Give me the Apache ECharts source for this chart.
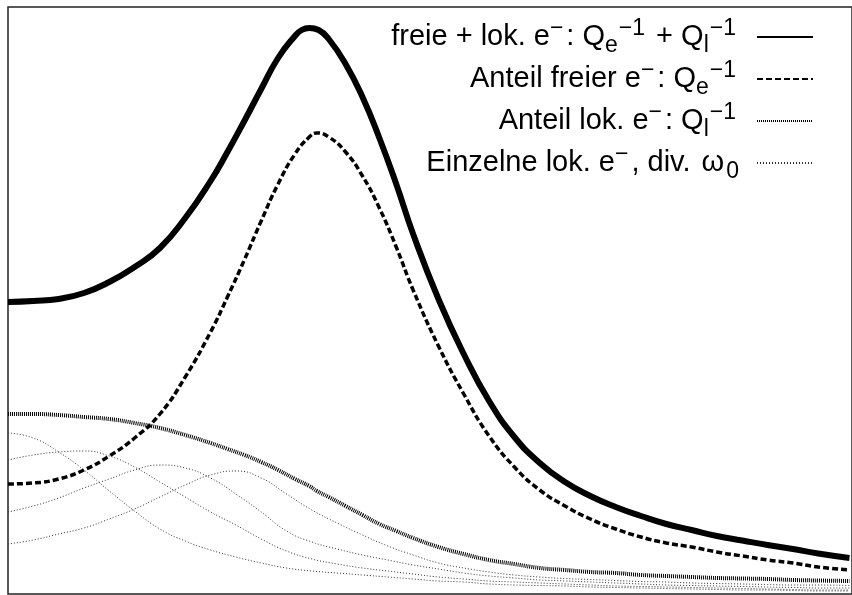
<!DOCTYPE html>
<html>
<head>
<meta charset="utf-8">
<script src="https://cdn.jsdelivr.net/npm/echarts@6/dist/echarts.min.js"></script>
<style>html,body{margin:0;padding:0;background:#fff}#c{width:852px;height:595px}</style>
</head>
<body>
<div id="c"></div>
<script>
// x positions (arbitrary frequency units) of the sum curve
const X_TOTAL = [0, 0.3, 0.6, 0.9, 1.2, 1.5, 1.8, 2.1, 2.4, 2.6, 2.8, 3.0, 3.2, 3.4, 3.48, 3.57, 3.68, 3.8, 4.0, 4.2, 4.4, 4.6, 4.8, 5.1, 5.4, 5.7, 6.0, 6.3, 6.6, 6.9, 7.2, 7.5, 7.8, 8.1, 8.4, 8.7, 9.0, 9.3, 9.6, 9.97];
// free + localized electrons
const TOTAL = [2.92, 2.93, 2.95, 3.01, 3.12, 3.27, 3.46, 3.76, 4.13, 4.42, 4.73, 5.05, 5.36, 5.58, 5.64, 5.66, 5.64, 5.55, 5.30, 4.97, 4.56, 4.10, 3.60, 2.95, 2.40, 1.93, 1.57, 1.31, 1.12, 0.98, 0.87, 0.78, 0.70, 0.64, 0.58, 0.535, 0.49, 0.45, 0.405, 0.36];
// x positions of the free / localized parts
const X_MAIN = [0, 0.3, 0.6, 0.9, 1.2, 1.5, 1.8, 2.1, 2.4, 2.6, 2.8, 3.0, 3.2, 3.4, 3.57, 3.66, 3.8, 4.0, 4.2, 4.4, 4.6, 4.8, 5.1, 5.4, 5.7, 6.0, 6.3, 6.6, 6.9, 7.2, 7.5, 7.8, 8.1, 8.4, 8.7, 9.0, 9.3, 9.6, 9.97];
// free electrons
const FREE  = [1.10, 1.11, 1.15, 1.24, 1.38, 1.56, 1.80, 2.17, 2.62, 2.97, 3.34, 3.73, 4.10, 4.40, 4.57, 4.61, 4.57, 4.42, 4.18, 3.86, 3.47, 3.04, 2.48, 2.00, 1.58, 1.27, 1.04, 0.88, 0.75, 0.65, 0.57, 0.51, 0.47, 0.42, 0.38, 0.34, 0.31, 0.27, 0.24];
// localized electrons
const LOCAL = [1.80, 1.80, 1.79, 1.77, 1.75, 1.71, 1.66, 1.59, 1.51, 1.45, 1.39, 1.32, 1.24, 1.15, 1.08, 1.03, 0.97, 0.88, 0.79, 0.70, 0.63, 0.56, 0.47, 0.40, 0.34, 0.30, 0.26, 0.24, 0.22, 0.21, 0.19, 0.18, 0.17, 0.16, 0.155, 0.15, 0.14, 0.135, 0.13];
// x positions of the individual localized contributions
const X_SINGLE = [0, 0.3, 0.6, 0.9, 1.2, 1.5, 1.8, 2.1, 2.4, 2.7, 3.0, 3.3, 3.6, 3.9, 4.2, 4.5, 4.8, 5.1, 5.4, 5.7, 6.0, 6.3, 6.6, 6.9, 7.2, 7.5, 7.8, 8.1, 8.4, 8.7, 9.0, 9.3, 9.6, 9.97];
const SINGLE_1 = [1.61, 1.56, 1.42, 1.24, 1.03, 0.83, 0.65, 0.53, 0.44, 0.37, 0.31, 0.26, 0.23, 0.21, 0.19, 0.17, 0.15, 0.13, 0.12, 0.10, 0.09, 0.085, 0.08, 0.07, 0.065, 0.06, 0.055, 0.05, 0.045, 0.04, 0.04, 0.035, 0.03, 0.03];
const SINGLE_2 = [1.34, 1.39, 1.42, 1.43, 1.38, 1.27, 1.12, 0.97, 0.82, 0.69, 0.55, 0.43, 0.35, 0.30, 0.26, 0.23, 0.20, 0.17, 0.15, 0.13, 0.12, 0.11, 0.10, 0.09, 0.08, 0.075, 0.07, 0.065, 0.06, 0.055, 0.05, 0.045, 0.04, 0.04];
const SINGLE_3 = [0.82, 0.88, 0.96, 1.06, 1.15, 1.24, 1.29, 1.26, 1.16, 1.00, 0.82, 0.63, 0.52, 0.45, 0.39, 0.34, 0.29, 0.25, 0.21, 0.18, 0.16, 0.14, 0.13, 0.12, 0.11, 0.10, 0.09, 0.085, 0.08, 0.075, 0.07, 0.065, 0.06, 0.06];
const SINGLE_4 = [0.50, 0.54, 0.60, 0.66, 0.75, 0.85, 0.97, 1.09, 1.19, 1.23, 1.16, 1.00, 0.84, 0.71, 0.59, 0.48, 0.39, 0.31, 0.26, 0.22, 0.19, 0.17, 0.155, 0.145, 0.135, 0.125, 0.12, 0.11, 0.105, 0.10, 0.095, 0.09, 0.09, 0.085];

const NAMES = ['total', 'free', 'local', 'single'];
const LABELS = {
  total: '{n|freie + lok. e}{esup|−}{n|: Q}{sub|e}{sup|−1}{n| + Q}{sub|l}{sup|−1}',
  free: '{n|Anteil freier e}{esup|−}{n|: Q}{sub|e}{sup|−1}',
  local: '{n|Anteil lok. e}{esup|−}{n|: Q}{sub|l}{sup|−1}',
  single: '{n|Einzelne lok. e}{esup|−}{n|, div. }{w|ω}{sub|0}'
};

const pairs = (xs, ys) => xs.map((x, i) => [x, ys[i]]);
const FONT = '"Liberation Sans", Arial, sans-serif';

const chart = echarts.init(document.getElementById('c'), null, {renderer: 'canvas'});
const thin = {color: '#333', width: 1, type: [1, 2]};
const base = {type: 'line', symbol: 'none', smooth: 0.5, silent: true};
chart.setOption({
  animation: false,
  backgroundColor: '#fff',
  grid: {left: 8, top: 7, right: -3, bottom: 1, show: true, borderColor: '#222', borderWidth: 1.5, backgroundColor: 'transparent'},
  xAxis: {type: 'value', min: 0, max: 10, show: false},
  yAxis: {type: 'value', min: 0, max: 5.87, show: false},
  legend: {
    orient: 'vertical', right: 33, top: 12, align: 'right',
    itemWidth: 56, itemHeight: 12, itemGap: 2,
    itemStyle: {opacity: 0},
    data: NAMES,
    formatter: n => LABELS[n],
    textStyle: {
      color: '#000', fontFamily: FONT, fontSize: 29, padding: [0, 13, 0, 0],
      rich: {
        n: {fontSize: 29, fontFamily: FONT, color: '#000', lineHeight: 40, verticalAlign: 'middle'},
        w: {fontSize: 29, fontFamily: FONT, color: '#000', lineHeight: 40, verticalAlign: 'middle', padding: [0, 2, 0, 3]},
        esup: {fontSize: 23, fontFamily: FONT, color: '#000', lineHeight: 22, verticalAlign: 'top', padding: [0, 3, 0, 0]},
        sup: {fontSize: 23, fontFamily: FONT, color: '#000', lineHeight: 22, verticalAlign: 'top', padding: [0, 3, 0, 1]},
        sub: {fontSize: 23, fontFamily: FONT, color: '#000', lineHeight: 22, verticalAlign: 'bottom'}
      }
    }
  },
  series: [
    Object.assign({name: 'single', data: pairs(X_SINGLE, SINGLE_1), lineStyle: thin, itemStyle: {color: '#333'}}, base),
    Object.assign({name: 'single', data: pairs(X_SINGLE, SINGLE_2), lineStyle: thin, itemStyle: {color: '#333'}}, base),
    Object.assign({name: 'single', data: pairs(X_SINGLE, SINGLE_3), lineStyle: thin, itemStyle: {color: '#333'}}, base),
    Object.assign({name: 'single', data: pairs(X_SINGLE, SINGLE_4), lineStyle: thin, itemStyle: {color: '#333'}}, base),
    Object.assign({name: 'local', data: pairs(X_MAIN, LOCAL), lineStyle: {color: '#000', width: 4, type: [1, 1]}, itemStyle: {color: '#000'}}, base),
    Object.assign({name: 'free', data: pairs(X_MAIN, FREE), lineStyle: {color: '#000', width: 3.5, type: [6, 3]}, itemStyle: {color: '#000'}}, base),
    Object.assign({name: 'total', data: pairs(X_TOTAL, TOTAL), lineStyle: {color: '#000', width: 6}, itemStyle: {color: '#000'}}, base)
  ]
});
</script>
</body>
</html>
